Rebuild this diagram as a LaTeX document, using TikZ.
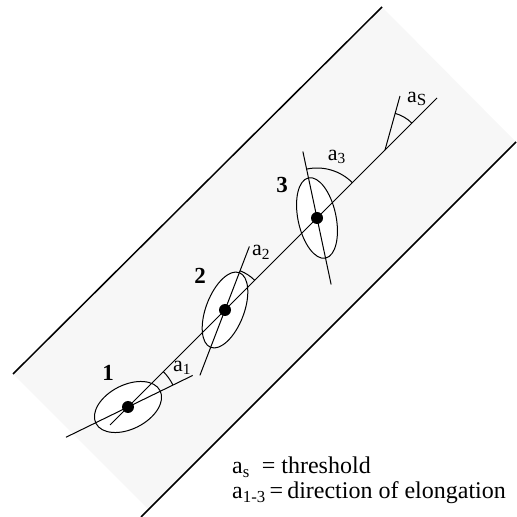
\documentclass[tikz,border=0pt]{standalone}
\usepackage{fontspec}
\setmainfont{Liberation Serif}
\usetikzlibrary{calc}

\begin{document}
\begin{tikzpicture}[x=1pt,y=1pt,
  edge/.style={line width=1.5pt},
  axis/.style={line width=1pt},
  blob/.style={circle,fill=black,inner sep=0pt,minimum size=12pt},
  lbl/.style={font=\fontsize{22}{26}\selectfont},
  num/.style={font=\fontsize{23}{27}\selectfont\bfseries},
  key/.style={anchor=west,inner sep=0pt,font=\fontsize{24}{28}\selectfont}]
\path[use as bounding box] (0,0) rectangle (517,517);
% band
\fill[gray!6] (13,143) -- (382,510) -- (516,375) -- (148.5,7.5) -- cycle;
\draw[edge] (13,143) -- (382,510);
\draw[edge] (516,375) -- (141,0);
% centres on the main line
\coordinate (p0) at (110,92);
\coordinate (pe) at (437,419);
\coordinate (c1) at (128,110);
\coordinate (c2) at (225,207);
\coordinate (c3) at (317,299);
\coordinate (t) at (385,367);
% ellipses and their long axes
\draw[axis,fill=white,shift={(c1)},rotate=27] (0,0) ellipse (36pt and 22pt);
\draw[axis,fill=white,shift={(c2)},rotate=69] (0,0) ellipse (40pt and 19pt);
\draw[axis,fill=white,shift={(c3)},rotate=102] (0,0) ellipse (41pt and 19pt);
\draw[axis] (p0) -- (pe);
\draw[axis] ($(c1)+(206:69)$) -- ($(c1)+(26:72)$);
\draw[axis] ($(c2)+(249:70)$) -- ($(c2)+(69:68)$);
\draw[axis] ($(c3)+(282:68)$) -- ($(c3)+(102:68)$);
\draw[axis] (t) -- ++(74.5:56);
% angles
\draw[axis] ($(c1)+(26:50)$) arc[start angle=26,end angle=45,radius=50pt];
\draw[axis] ($(c2)+(45:42)$) arc[start angle=45,end angle=69,radius=42pt];
\draw[axis] ($(c3)+(45:50)$) arc[start angle=45,end angle=102,radius=50pt];
\draw[axis] ($(t)+(45:38)$) arc[start angle=45,end angle=74.5,radius=38pt];
% dots
\node[blob] (d1) at (c1) {};
\node[blob] (d2) at (c2) {};
\node[blob] (d3) at (c3) {};
% labels
\node[lbl] (a1) at ($(c1)+(36:67)$) {a\textsubscript{1}};
\node[lbl] (a2) at ($(c2)+(58:68)$) {a\textsubscript{2}};
\node[lbl] (a3) at ($(c3)+(72:64)$) {a\textsubscript{3}};
\node[lbl] (as) at ($(t)+(58:60)$) {a\raisebox{-3pt}{\fontsize{17}{17}\selectfont S}};
\node[num] (n1) at (108,144) {1};
\node[num] (n2) at (200,241) {2};
\node[num] (n3) at (282,332) {3};
% key
\node[key] (k1) at (232,50) {a\textsubscript{s}\enspace= threshold};
\node[key] (k2) at (232,24) {a\textsubscript{1-3}\,=\,direction of elongation};
\end{tikzpicture}
\end{document}
